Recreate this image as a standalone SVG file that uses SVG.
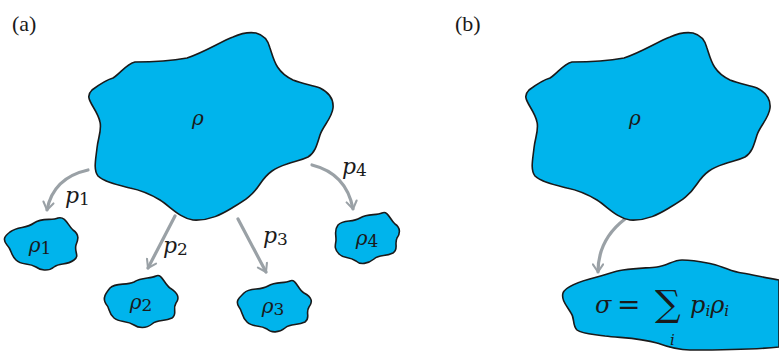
<svg xmlns="http://www.w3.org/2000/svg" width="779" height="351" viewBox="0 0 779 351">
<style>
.blob{fill:#00b4ec;stroke:#1a1a1a;stroke-width:1.6;stroke-linejoin:round}
.m{font-family:"DejaVu Serif","Liberation Serif",serif;font-style:italic;fill:#1a1a1a}
.n{font-family:"DejaVu Serif","Liberation Serif",serif;fill:#1a1a1a}
.lbl{font-family:"Liberation Serif","DejaVu Serif",serif;font-size:22px;fill:#1a1a1a}
.arr{fill:none;stroke:#9aa1a6;stroke-width:3.2;stroke-linecap:round}
</style>
<defs>
<marker id="ah" viewBox="0 0 10 10" refX="7" refY="5" markerWidth="4" markerHeight="4" orient="auto" markerUnits="strokeWidth">
<path d="M1,1 L7,5 L1,9" fill="none" stroke="#9aa1a6" stroke-width="1.6" stroke-linecap="round" stroke-linejoin="round"/>
</marker>
<path id="big" d="M92,90 C100,84 106,80 113,78 C120,74 126,64 135,62 C150,62 165,62 187,58 C205,52 220,42 233,37 C242,33 250,32 256,33 C264,35 268,40 270,48 C274,60 276,72 293,80 C303,84 312,85 320,88 C328,92 334,98 333,108 C332,118 323,126 320,135 C317,145 315,153 308,157 C300,161 294,161 287,164 C275,168 268,172 260,184 C252,196 245,200 232,208 C222,214 210,221 193,220 C180,218 172,208 160,200 C150,194 140,190 130,188 C118,185 104,182 98,176 C93,170 96,158 97,148 C98,138 102,130 100,122 C98,112 90,104 89,98 C88,94 90,92 92,90 Z"/>
</defs>

<text class="lbl" x="12" y="31">(a)</text>
<text class="lbl" x="455" y="31">(b)</text>

<g id="connectors">
<path class="arr" d="M88,170 C70,174 52,184 47,210" marker-end="url(#ah)"/>
<path class="arr" d="M175,216 L148,268" marker-end="url(#ah)"/>
<path class="arr" d="M238,219 L266,272" marker-end="url(#ah)"/>
<path class="arr" d="M312,165 C332,170 348,182 353,209" marker-end="url(#ah)"/>
<path class="arr" d="M625,219 C608,232 598,248 598,272" marker-end="url(#ah)"/>
</g>

<g id="labels-p">
<text class="m" x="65" y="203" font-size="22">p<tspan font-style="normal" font-size="17" dy="2">1</tspan></text>
<text class="m" x="163" y="253" font-size="22">p<tspan font-style="normal" font-size="17" dy="2">2</tspan></text>
<text class="m" x="263" y="243" font-size="22">p<tspan font-style="normal" font-size="17" dy="2">3</tspan></text>
<text class="m" x="342" y="174" font-size="22">p<tspan font-style="normal" font-size="17" dy="2">4</tspan></text>
</g>

<g id="rho-a">
<use href="#big" class="blob"/>
<text class="m" x="198" y="125" font-size="20" text-anchor="middle">ρ</text>
</g>

<g id="rho1">
<path class="blob" d="M10,232 C18,226 26,229 34,223 C42,217 52,221 58,218 C66,216 68,226 73,230 C80,235 78,240 76,245 C74,252 80,256 74,260 C66,266 60,262 54,267 C48,272 40,270 36,267 C28,262 22,266 16,260 C10,254 12,250 7,245 C2,239 5,236 10,232 Z"/>
<text class="m" x="40" y="252" font-size="20" text-anchor="middle">ρ<tspan font-style="normal" font-size="17" dy="2">1</tspan></text>
</g>

<g id="rho2">
<path class="blob" d="M110,288 C116,282 126,286 134,282 C142,277 150,279 156,276 C162,273 164,284 170,288 C178,293 180,298 176,303 C172,309 178,314 172,318 C164,322 158,319 152,324 C146,329 138,328 134,325 C126,320 120,323 114,318 C108,313 110,308 106,304 C102,298 106,293 110,288 Z"/>
<text class="m" x="141" y="309" font-size="20" text-anchor="middle">ρ<tspan font-style="normal" font-size="17" dy="2">2</tspan></text>
</g>

<g id="rho3">
<path class="blob" d="M244,293 C250,287 260,291 268,286 C276,281 284,284 290,281 C296,278 298,290 304,293 C312,297 313,302 309,307 C305,313 311,318 305,322 C297,326 291,323 285,328 C279,333 271,333 267,329 C259,324 253,328 247,322 C241,316 243,312 239,307 C235,301 239,298 244,293 Z"/>
<text class="m" x="273" y="313" font-size="20" text-anchor="middle">ρ<tspan font-style="normal" font-size="17" dy="2">3</tspan></text>
</g>

<g id="rho4">
<path class="blob" d="M338,225 C344,219 352,223 360,218 C368,213 376,216 382,213 C388,210 390,220 395,224 C401,228 400,234 397,238 C394,244 399,249 393,253 C385,257 380,254 374,259 C368,264 360,265 356,261 C348,256 344,259 339,254 C333,248 336,244 336,240 C336,233 334,230 338,225 Z"/>
<text class="m" x="367" y="245" font-size="20" text-anchor="middle">ρ<tspan font-style="normal" font-size="17" dy="2">4</tspan></text>
</g>

<g id="rho-b">
<use href="#big" class="blob" transform="translate(437,0)"/>
<text class="m" x="635" y="125" font-size="20" text-anchor="middle">ρ</text>
</g>

<g id="sigma">
<path class="blob" d="M563,293 C566,285 585,280 597,277 C608,274 615,271 623,270 C638,268 648,268 657,267 C667,266 673,260 682,260 C695,260 702,262 712,264 C725,267 732,272 742,273 C755,275 765,278 779,280 L779,347 C760,349 720,350 690,350 C675,350 665,346 657,343 C640,338 622,338 605,336 C592,334 582,334 577,330 C572,325 575,318 571,313 C567,306 561,300 563,293 Z"/>
<text class="m" x="595" y="313" font-size="24">σ</text>
<text class="n" x="617" y="314" font-size="28">=</text>
<text class="n" x="655" y="316" font-size="36">∑</text>
<text class="m" x="670" y="345" font-size="15">i</text>
<text class="m" x="690" y="313" font-size="24">p<tspan font-size="15" dy="3">i</tspan><tspan dy="-3">ρ</tspan><tspan font-size="15" dy="3">i</tspan></text>
</g>
</svg>
